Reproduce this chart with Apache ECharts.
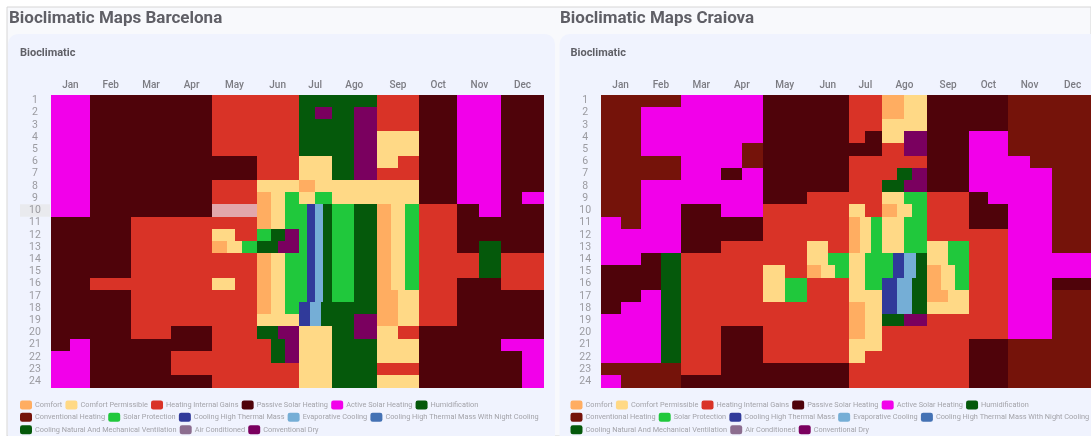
<!DOCTYPE html>
<html><head><meta charset="utf-8">
<style>html,body{margin:0;padding:0;background:#fff}#c{width:1091px;height:436px}</style>
<script src="https://cdn.jsdelivr.net/npm/echarts@6/dist/echarts.min.js"></script>
</head><body><div id="c"></div>
<script>
const months=['Jan','Feb','Mar','Apr','May','Jun','Jul','Ago','Sep','Oct','Nov','Dec'];
const hours=['1','2','3','4','5','6','7','8','9','10','11','12','13','14','15','16','17','18','19','20','21','22','23','24'];
const monthSpans=[39.8,40.7,40,41.3,44.4,41.8,33.2,45,42.3,38.3,44,42.1];
const strategies=[
 ['C','Comfort','#FFAD61'],['P','Comfort Permissible','#FFD986'],['H','Heating Internal Gains','#D93327'],
 ['S','Passive Solar Heating','#4F030A'],['A','Active Solar Heating','#F200EA'],['U','Humidification','#05590B'],
 ['V','Conventional Heating','#75130A'],['L','Solar Protection','#20C83C'],['M','Cooling High Thermal Mass','#303A9A'],
 ['E','Evaporative Cooling','#75AED6'],['N','Cooling High Thermal Mass With Night Cooling','#4472B4'],
 ['K','Cooling Natural And Mechanical Ventilation','#05590B'],['I','Air Conditioned','#8C6D8F'],['D','Conventional Dry','#7A005F']];
// each run: strategy letter + end position in twelfths of a month; h = hovered Heating Internal Gains cell
const barcelonaRows=[
 'A12 S48 H72 K96 H108 S120 A132 S144',
 'A12 S48 H72 K78 D84 K90 D96 H108 S120 A132 S144',
 'A12 S48 H72 K90 D96 H108 S120 A132 S144',
 'A12 S48 H72 K90 D96 P108 S120 A132 S144',
 'A12 S48 H72 K90 D96 P108 S120 A132 S144',
 'A12 S60 H72 P84 K90 D96 P102 H108 S120 A132 S144',
 'A12 S60 H72 P84 K90 D96 H108 S120 A132 S144',
 'A12 S48 H60 P72 C78 P108 S120 A132 S144',
 'A12 S48 H60 C64 P68 L72 P78 L84 P108 S120 A132 S138 A144',
 'A12 S48 h60 C64 P68 L75 M78 E81 K84 L90 K96 C100 P104 L108 H120 S126 A132 S144',
 'S24 H60 C64 P68 L75 M78 E81 K84 L90 K96 C100 P104 L108 H120 S144',
 'S24 H48 P54 H60 L64 K68 D72 L75 M78 E81 K84 L90 K96 C100 P104 L108 H120 S144',
 'S24 H48 C52 P56 L60 K66 D72 L75 M78 E81 K84 L90 K96 C100 P104 L108 H120 S126 U132 S144',
 'S24 H60 C64 P68 L75 M78 E81 K84 L90 K96 C100 P104 L108 H126 U132 H144',
 'S24 H60 C64 P68 L75 M78 E81 K84 L90 K96 C100 P104 L108 H126 U132 H144',
 'S12 H48 P54 H60 C64 P68 L75 M78 E81 K84 L90 K96 C100 P104 L108 H120 S132 H144',
 'S24 H60 C64 P68 L75 M78 E81 K84 L90 K96 C102 P108 H120 S144',
 'S24 H60 C64 P68 L72 M76 E80 K96 C102 P108 H120 S144',
 'S24 H60 P72 M76 E80 K90 D96 C102 P108 H120 S144',
 'S24 H36 S48 H60 K66 D72 P84 K90 D96 P102 H108 S144',
 'S6 A12 S48 H64 K68 D72 P84 K96 P108 S132 A144',
 'A12 S36 H64 K68 D72 P84 K96 P108 S138 A144',
 'A12 S36 H72 P84 K96 H108 S138 A144',
 'A12 S48 H72 P84 K96 P108 S138 A144'];
const craiovaRows=[
 'V24 A48 S72 H84 C90 P96 S120 V144',
 'V12 A48 S72 H84 C90 P96 S120 V144',
 'V12 A48 S72 H84 P96 S120 V144',
 'V12 A48 S72 H78 S84 P90 D96 S108 A120 V144',
 'V12 A42 V48 S84 H90 D96 S108 A120 V144',
 'V24 A42 V48 S72 H96 S108 A126 V144',
 'V24 A36 S42 A48 S72 H88 K92 D96 S108 A132 V144',
 'V12 A48 S72 H84 K90 D96 S108 A132 V144',
 'V12 A48 S60 H84 P90 L96 H108 S114 A132 V144',
 'V12 A24 S36 A48 H72 P78 H84 C88 P92 L96 H108 S120 A132 V144',
 'A6 V12 A24 S48 H72 C76 P80 L84 P90 L96 H108 S120 A132 V144',
 'A24 S48 H72 C76 P80 L84 P90 L96 H120 A132 V144',
 'A24 S36 H60 P66 H72 C76 P80 L84 P90 L96 P102 L108 H120 A132 V144',
 'A12 S18 U24 H60 P66 L72 P78 L87 M90 E93 K96 P102 L108 H120 A144',
 'S18 U24 H48 P54 H60 C64 P68 L72 P78 L87 M90 E93 K96 C100 P104 L108 H120 A144',
 'S18 U24 H48 P54 L60 H72 P78 L84 M88 E92 K96 C100 P104 L108 H120 A132 S144',
 'S12 A18 U24 H48 P54 L60 H72 P84 M88 E92 K96 C102 P108 H120 A132 V144',
 'S6 A18 U24 H72 C78 P84 M88 E92 K96 P108 H120 A132 V144',
 'A18 U24 H72 C78 P84 K90 D96 H120 A132 V144',
 'A18 U24 H36 S48 H72 C78 P84 H120 A132 V144',
 'A18 U24 H36 S48 H72 P84 H108 S120 V144',
 'A18 U24 H36 S48 H72 P78 H108 S120 V144',
 'V24 H36 S72 H108 S120 V144',
 'A6 V24 S72 H108 S120 V144'];
const legendRows=[
 ['Comfort','Comfort Permissible','Heating Internal Gains','Passive Solar Heating','Active Solar Heating','Humidification'],
 ['Conventional Heating','Solar Protection','Cooling High Thermal Mass','Evaporative Cooling','Cooling High Thermal Mass With Night Cooling'],
 ['Cooling Natural And Mechanical Ventilation','Air Conditioned','Conventional Dry']];

const hoverFill='#E2A7AB';
const starts=[0];monthSpans.forEach(s=>starts.push(starts[starts.length-1]+s));
const total=starts[12];
const centers=monthSpans.map((s,i)=>starts[i]+s/2);
const pos=t=>{const m=Math.min(11,Math.floor(t/12));return starts[m]+(t-12*m)/12*monthSpans[m];};
function cells(rows,letter){
  const out=[];
  rows.forEach((row,r)=>{let prev=0;row.split(' ').forEach(run=>{
    const c=run[0],end=+run.slice(1);
    if(c===letter)out.push([pos(prev),pos(end),r,0]);
    if(c==='h'&&letter==='H')out.push([pos(prev),pos(end),r,1]);
    prev=end;});});
  return out;
}
function renderCell(params,api){
  const a=api.coord([api.value(0),api.value(2)]),b=api.coord([api.value(1),api.value(2)]);
  const h=api.size([0,1])[1];
  const x0=Math.round(a[0]),x1=Math.round(b[0]),y0=Math.round(a[1]-h/2),y1=Math.round(a[1]+h/2);
  return {type:'rect',shape:{x:x0,y:y0,width:x1-x0,height:y1-y0},
    style:{fill:api.value(3)?hoverFill:api.visual('color')}};
}
const lefts=[50.5,600.7],legLefts=[20,570.5],cities=[barcelonaRows,craiovaRows];
const grid=[],xAxis=[],yAxis=[],series=[],legend=[];
const muted='#9b9ba1';
cities.forEach((rows,i)=>{
  grid.push({left:lefts[i],top:94.5,width:493,height:293,outerBoundsMode:'none',containLabel:false});
  xAxis.push({gridIndex:i,type:'value',position:'top',min:0,max:total,
    axisLine:{show:false},axisTick:{show:false},splitLine:{show:false},
    axisLabel:{customValues:centers,margin:4,color:'#7b7b82',fontFamily:'Roboto',fontWeight:500,fontSize:10,
      hideOverlap:false,formatter:v=>months[centers.findIndex(c=>Math.abs(c-v)<.01)]}});
  yAxis.push({gridIndex:i,type:'category',inverse:true,data:hours,
    axisLine:{show:false},axisTick:{show:false},splitLine:{show:false},
    axisLabel:{interval:0,margin:15.5,align:'center',color:muted,fontFamily:'Roboto',fontSize:10.5,
      formatter:v=>(i===0&&v==='10')?'{hl|'+v+'}':v,
      rich:{hl:{backgroundColor:'#E9EAEE',width:30,height:12.5,align:'center',color:muted,fontFamily:'Roboto',fontSize:10.5}}}});
  strategies.forEach(s=>series.push({type:'custom',name:s[1],xAxisIndex:i,yAxisIndex:i,coordinateSystem:'cartesian2d',
    renderItem:renderCell,itemStyle:{color:s[2]},encode:{x:[0,1],y:2},silent:true,animation:false,
    data:cells(rows,s[0])}));
  legendRows.forEach((names,k)=>legend.push({left:legLefts[i],top:400.5+k*12.35,width:700,data:names,orient:'horizontal',
    icon:'roundRect',itemWidth:12,itemHeight:9,itemGap:3.2,selectedMode:false,padding:0,
    textStyle:{color:'#a3a3a9',fontFamily:'Roboto',fontSize:7.35,padding:[0,0,0,-2]}}));
});
const titleStyle={color:'#5f5f66',fontFamily:'Roboto',fontWeight:'bold',fontSize:17};
const subStyle={color:'#5f5f66',fontFamily:'Roboto',fontWeight:'bold',fontSize:11};
const chart=echarts.init(document.getElementById('c'),null,{renderer:'canvas'});
chart.setOption({
  animation:false,backgroundColor:'#fff',
  graphic:{elements:[
    {type:'rect',z:-10,shape:{x:7,y:7,width:1084,height:429},style:{fill:'#F8F9FC',stroke:'#D6D6D6',lineWidth:1}},
    {type:'rect',z:-9,shape:{x:8,y:34,width:547,height:420,r:10},style:{fill:'#F0F3FE'}},
    {type:'rect',z:-9,shape:{x:559.5,y:34,width:560,height:420,r:10},style:{fill:'#F0F3FE'}}]},
  title:[
    {text:'Bioclimatic Maps Barcelona',left:9,top:10,padding:0,textStyle:titleStyle},
    {text:'Bioclimatic Maps Craiova',left:560,top:10,padding:0,textStyle:titleStyle},
    {text:'Bioclimatic',left:20,top:48,padding:0,textStyle:subStyle},
    {text:'Bioclimatic',left:570.5,top:48,padding:0,textStyle:subStyle}],
  tooltip:{show:false},grid,xAxis,yAxis,legend,series});
</script></body></html>
